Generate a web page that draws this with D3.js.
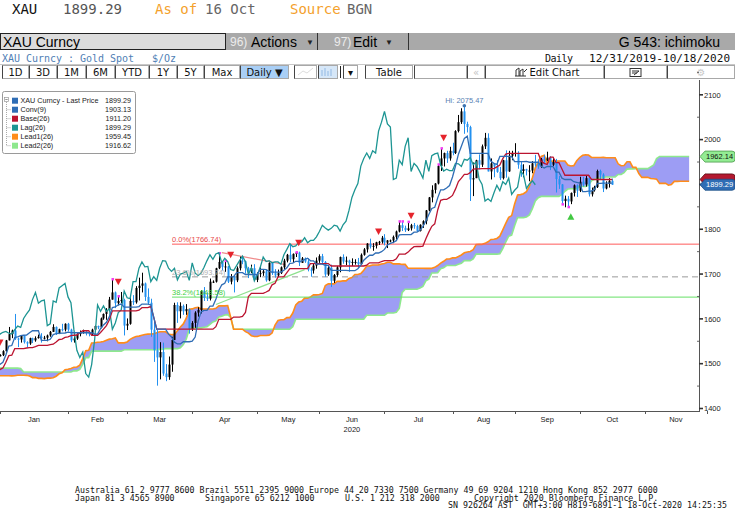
<!DOCTYPE html>
<html>
<head>
<meta charset="utf-8">
<script src="https://cdn.jsdelivr.net/npm/d3@7/dist/d3.min.js"></script>
<style>
    body { margin: 0; background: #fff; }
    svg { display: block; }
    .mono { font-family: "DejaVu Sans Mono", monospace; }
    .sans { font-family: "Liberation Sans", Arial, sans-serif; }
    .tahoma { font-family: "DejaVu Sans", sans-serif; }
</style>
</head>
<body>
<svg id="chart" width="735" height="529"></svg>
<script>
// daily bars, index 0 = 31 Dec 2019 (weekdays only)
var openPx = [
    1515,1517,1519,1528,1552,1566,1574,1556,1554,1562,
    1548,1545,1557,1552,1557,1560,1558,1558,1563,1571,
    1582,1567,1577,1576,1589,1576,1552,1556,1566,1570,
    1572,1568,1566,1576,1584,1581,1601,1611,1620,1643,
    1659,1635,1640,1642,1585,1589,1640,1637,1669,1674,
    1679,1649,1636,1576,1530,1514,1526,1478,1470,1498,
    1553,1631,1617,1629,1617,1622,1577,1591,1614,1620,
    1662,1647,1645,1683,1683,1713,1727,1716,1717,1683,
    1694,1686,1713,1730,1729,1713,1706,1713,1687,1700,
    1702,1706,1686,1725,1702,1697,1702,1715,1730,1743,
    1733,1745,1748,1725,1735,1728,1710,1708,1719,1730,
    1740,1727,1699,1714,1685,1698,1715,1738,1728,1730,
    1725,1727,1727,1722,1743,1755,1768,1761,1763,1771,
    1772,1781,1770,1775,1775,1783,1795,1809,1803,1798,
    1802,1809,1807,1796,1810,1818,1842,1871,1888,1902,
    1941,1958,1970,1958,1975,1970,2019,2039,2063,2035,
    2028,1911,1914,1954,1944,1985,2004,1929,1947,1940,
    1928,1914,1954,1929,1964,1968,1970,1944,1930,1934,
    1931,1931,1947,1946,1940,1956,1954,1960,1944,1950,
    1912,1900,1863,1868,1862,1881,1898,1886,1906,1900,
    1914,1878,1887,1894,1930,1922,1891,1901,1908
];
var highPx = [
    1523,1521,1530,1553,1582,1576,1611,1558,1563,1563,
    1550,1558,1558,1561,1565,1568,1562,1565,1573,1588,
    1583,1578,1589,1590,1591,1578,1561,1568,1574,1576,
    1574,1569,1578,1585,1585,1603,1612,1624,1649,1689,
    1661,1651,1660,1645,1601,1649,1653,1673,1692,1703,
    1681,1668,1645,1596,1575,1548,1547,1499,1516,1560,
    1636,1637,1637,1632,1633,1623,1595,1617,1626,1664,
    1671,1659,1690,1686,1714,1747,1729,1730,1718,1700,
    1698,1717,1739,1738,1730,1716,1721,1722,1704,1715,
    1711,1709,1726,1727,1711,1710,1717,1734,1745,1765,
    1746,1749,1750,1738,1737,1735,1715,1723,1737,1744,
    1745,1729,1719,1721,1700,1718,1739,1744,1739,1732,
    1735,1733,1736,1746,1758,1769,1779,1769,1772,1774,
    1785,1789,1776,1777,1786,1797,1818,1818,1808,1817,
    1812,1814,1810,1811,1820,1843,1872,1898,1903,1945,
    1981,1971,1975,1984,1993,2021,2055,2070,2075.47,2040,
    2031,1949,1955,1967,1989,2015,2014,1958,1948,1954,
    1939,1955,1976,1975,1975,1992,1974,1950,1945,1935,
    1943,1952,1966,1956,1959,1966,1973,1963,1960,1957,
    1919,1901,1875,1874,1882,1900,1900,1917,1917,1919,
    1921,1893,1897,1933,1933,1925,1907,1914,1913
];
var lowPx = [
    1514,1516,1517,1527,1552,1557,1553,1537,1547,1545,
    1536,1542,1546,1549,1556,1547,1554,1550,1560,1571,
    1564,1566,1572,1572,1572,1548,1547,1553,1561,1567,
    1563,1561,1564,1574,1577,1579,1598,1598,1619,1643,
    1624,1630,1635,1563,1575,1587,1631,1634,1641,1659,
    1640,1633,1560,1504,1451,1465,1473,1461,1464,1482,
    1553,1591,1601,1609,1609,1567,1573,1580,1605,1612,
    1640,1640,1641,1680,1681,1711,1708,1705,1680,1677,
    1659,1682,1708,1722,1701,1691,1702,1684,1682,1693,
    1696,1683,1684,1698,1692,1693,1700,1711,1726,1727,
    1726,1738,1718,1725,1725,1706,1694,1701,1712,1725,
    1723,1694,1696,1671,1680,1694,1704,1723,1720,1705,
    1718,1721,1715,1721,1741,1748,1757,1752,1757,1765,
    1768,1764,1758,1771,1769,1777,1793,1796,1794,1796,
    1797,1801,1795,1795,1803,1811,1840,1860,1880,1900,
    1930,1940,1948,1953,1965,1968,2016,2035,2013,2016,
    1863,1874,1914,1934,1939,1979,1929,1911,1916,1926,
    1910,1911,1915,1928,1954,1962,1935,1917,1916,1920,
    1907,1925,1940,1935,1937,1948,1952,1932,1941,1882,
    1890,1855,1849,1849,1856,1873,1872,1883,1895,1895,
    1873,1873,1884,1892,1911,1883,1889,1893,1899
];
var closePx = [
    1517,1519,1528,1552,1566,1574,1556,1554,1562,1548,
    1545,1557,1552,1557,1560,1558,1558,1563,1571,1582,
    1567,1577,1576,1589,1576,1552,1556,1566,1570,1572,
    1568,1566,1576,1584,1581,1601,1611,1620,1643,1659,
    1635,1640,1642,1585,1589,1640,1637,1669,1674,1679,
    1649,1636,1576,1530,1514,1526,1478,1470,1498,1553,
    1631,1617,1629,1617,1622,1577,1591,1614,1620,1662,
    1647,1645,1683,1683,1713,1727,1716,1717,1683,1694,
    1686,1713,1730,1729,1713,1706,1713,1687,1700,1702,
    1706,1686,1725,1702,1697,1702,1715,1730,1743,1733,
    1745,1748,1725,1735,1728,1710,1708,1719,1730,1740,
    1727,1699,1714,1685,1698,1715,1738,1728,1730,1725,
    1727,1727,1722,1743,1755,1768,1761,1763,1771,1772,
    1781,1770,1775,1775,1783,1795,1809,1803,1798,1802,
    1809,1807,1796,1810,1818,1842,1871,1888,1902,1941,
    1958,1970,1958,1975,1970,2019,2039,2063,2035,2028,
    1911,1914,1954,1944,1985,2004,1929,1947,1940,1928,
    1914,1954,1929,1964,1968,1970,1944,1930,1934,1931,
    1931,1947,1946,1940,1956,1954,1960,1944,1950,1912,
    1900,1863,1868,1862,1881,1898,1886,1906,1900,1914,
    1878,1887,1894,1930,1922,1891,1901,1908,1899.29
];

// Sep-Dec 2019 highs/lows, off the left edge, feed the ichimoku windows
var histHigh = [
    1530,1547,1557,1553,1530,1510,1500,1504,1517,1504,1512,1503,1504,1508,1518,1525,1535,1533,1511,1508,1490,
    1481,1500,1514,1517,1505,1508,1512,1516,1499,1498,1497,1495,1498,1497,1492,1490,1495,1506,1518,1507,1494,1498,1515,
    1517,1516,1510,1494,1494,1472,1464,1464,1468,1474,1473,1474,1476,1478,1475,1468,1465,1464,1463,1458,1467,
    1468,1479,1484,1482,1477,1466,1468,1477,1479,1480,1478,1479,1479,1480,1481,1488,1499,1501,1512,1514,1518
];
var histLow = [
    1517,1521,1537,1515,1503,1494,1484,1484,1485,1486,1491,1494,1488,1489,1498,1510,1518,1502,1496,1488,1465,
    1459,1477,1497,1499,1490,1491,1498,1488,1475,1485,1476,1478,1483,1486,1477,1482,1484,1490,1500,1487,1484,1483,1495,
    1503,1504,1481,1479,1466,1456,1447,1445,1453,1460,1463,1461,1466,1467,1461,1456,1451,1452,1452,1451,1453,
    1454,1459,1470,1470,1458,1456,1459,1463,1461,1465,1472,1472,1473,1471,1474,1476,1486,1497,1499,1506,1509
];

var monthLabels = ["Jan","Feb","Mar","Apr","May","Jun","Jul","Aug","Sep","Oct","Nov"];
var monthStart = [1, 24, 44, 66, 88, 109, 131, 154, 175, 197, 219, 240];
var yTicks = [1400, 1500, 1600, 1700, 1800, 1900, 2000, 2100];
// 1900 sits under the last-price tag, so its label is not shown
var yTickLabels = ["1400", "1500", "1600", "1700", "1800", "", "2000", "2100"];

var legendNames = ["XAU Curncy - Last Price", "Conv(9)", "Base(26)", "Lag(26)", "Lead1(26)", "Lead2(26)"];
var legendValues = ["1899.29", "1903.13", "1911.20", "1899.29", "1959.45", "1916.62"];

var fibLabels = ["0.0%(1766.74)", "23.6%(1693.74)", "38.2%(1648.58)"];
var fibLevels = [1766.74, 1693.74, 1648.58];

// base tag sits behind the last-price tag, only its rim shows
var tagLabels = ["", "1962.14", "1899.29"];
var tagLevels = [1911.20, 1962.14, 1899.29];

var sellIdx = [1, 41, 79, 102, 129, 140, 151];
var sellPx = [1547, 1683, 1743, 1770, 1795, 1830, 2004];
var buyIdx = [194];
var buyPx = [1828];
var hiDotIdx = [39, 41, 75, 77, 101, 136, 137, 139, 149, 150];
var loDotIdx = [191, 193];

var trendDown = [[76, 1748], [97.5, 1721]];
var trendUp = [[74, 1632], [104, 1710]];

var colUp = "#000000", colDown = "#2391f0", colConv = "#2f6db5", colBase = "#bb1430",
    colLag = "#1d9593", colLead1 = "#ff8c1a", colLead2 = "#8ee88e", colCloud = "#9d9df4";

var svg = d3.select("#chart");

// ---------------- header ----------------
var h1 = svg.append("g").attr("class", "mono").style("font-size", "14px");
h1.append("text").attr("x", 12).attr("y", 14).attr("fill", "#111").text("XAU");
h1.append("text").attr("x", 63).attr("y", 14).attr("fill", "#555").text(d3.format(".2f")(closePx[closePx.length - 1]));
h1.append("text").attr("x", 155).attr("y", 14).attr("fill", "#f4a12c").text("As of");
h1.append("text").attr("x", 205).attr("y", 14).attr("fill", "#666").text("16 Oct");
h1.append("text").attr("x", 290).attr("y", 14).attr("fill", "#f4a12c").text("Source");
h1.append("text").attr("x", 347).attr("y", 14).attr("fill", "#666").text("BGN");

svg.append("rect").attr("x", 0).attr("y", 33).attr("width", 735).attr("height", 17).attr("fill", "#a9a9a9");
svg.append("rect").attr("x", 0.5).attr("y", 33.5).attr("width", 225).attr("height", 16)
    .attr("fill", "#dcdcdc").attr("stroke", "#222");
var h2 = svg.append("g").attr("class", "sans");
h2.append("text").attr("x", 3).attr("y", 46.5).style("font-size", "14px").attr("fill", "#000").text("XAU Curncy");
h2.append("text").attr("x", 230).attr("y", 46).style("font-size", "12px").attr("fill", "#ececec").text("96)");
h2.append("text").attr("x", 251).attr("y", 46.5).style("font-size", "14px").attr("fill", "#000").text("Actions");
h2.append("text").attr("x", 306).attr("y", 45).style("font-size", "8px").attr("fill", "#222").text("▼");
h2.append("line").attr("x1", 317.5).attr("x2", 317.5).attr("y1", 33).attr("y2", 50).attr("stroke", "#333");
h2.append("text").attr("x", 334).attr("y", 46).style("font-size", "12px").attr("fill", "#ececec").text("97)");
h2.append("text").attr("x", 353).attr("y", 46.5).style("font-size", "14px").attr("fill", "#000").text("Edit");
h2.append("text").attr("x", 385).attr("y", 45).style("font-size", "8px").attr("fill", "#222").text("▼");
h2.append("line").attr("x1", 408.5).attr("x2", 408.5).attr("y1", 33).attr("y2", 50).attr("stroke", "#333");
h2.append("text").attr("x", 720).attr("y", 46.5).attr("text-anchor", "end").style("font-size", "14px")
    .attr("fill", "#000").text("G 543: ichimoku");

var h3 = svg.append("g").attr("class", "mono").style("font-size", "10px");
h3.append("text").attr("x", 2).attr("y", 62).attr("fill", "#4f80b5").attr("xml:space", "preserve")
    .attr("textLength", 174).text("XAU Curncy : Gold Spot   $/Oz");
h3.append("text").attr("x", 545).attr("y", 62).attr("fill", "#111").attr("textLength", 28).text("Daily");
h3.append("text").attr("x", 589).attr("y", 62).attr("fill", "#111").style("font-size", "11px")
    .attr("textLength", 141).text("12/31/2019-10/18/2020");

// toolbar
var buttons = [
    { t: "1D", a: 2, b: 29 }, { t: "3D", a: 29, b: 57 }, { t: "1M", a: 57, b: 86 }, { t: "6M", a: 86, b: 115 },
    { t: "YTD", a: 115, b: 149 }, { t: "1Y", a: 149, b: 177 }, { t: "5Y", a: 177, b: 204 }, { t: "Max", a: 204, b: 240 },
    { t: "Daily ▼", a: 240, b: 289, bg: "#a9cff6" }, { t: "", a: 294, b: 317 }, { t: "", a: 318, b: 338, bg: "#d6e7f8" },
    { t: "▾", a: 343, b: 358 }, { t: "Table", a: 365, b: 413 }, { t: "", a: 414, b: 467 },
    { t: "«", a: 467, b: 485, fg: "#c4c4c4" }, { t: "Edit Chart", a: 485, b: 604, dx: 10 },
    { t: "", a: 604, b: 667 }, { t: "⚙", a: 667, b: 735, fg: "#c8c8c8" }
];
svg.append("line").attr("x1", 0).attr("x2", 735).attr("y1", 64.5).attr("y2", 64.5).attr("stroke", "#c8c8c8");
var tb = svg.append("g").attr("class", "tahoma").style("font-size", "10px");
buttons.forEach(function (d) {
    tb.append("rect").attr("x", d.a + 0.5).attr("y", 65.5).attr("width", d.b - d.a - 1).attr("height", 13)
        .attr("fill", d.bg || "#fff").attr("stroke", "#a8a8a8");
    tb.append("line").attr("x1", d.a + 0.5).attr("x2", d.a + 0.5).attr("y1", 65.5).attr("y2", 78.5).attr("stroke", "#444");
    if (d.t) {
        tb.append("text").attr("x", (d.a + d.b) / 2 + (d.dx || 0)).attr("y", 76).attr("text-anchor", "middle")
            .attr("fill", d.fg || "#111").text(d.t);
    }
});
tb.append("line").attr("x1", 340.5).attr("x2", 340.5).attr("y1", 66).attr("y2", 78).attr("stroke", "#222");
// greyed icons
tb.append("path").attr("d", "M298,75 L303,71 L307,73 L313,68").attr("fill", "none").attr("stroke", "#ddd");
tb.append("path").attr("d", "M322,70 v6 M325,68 v8 M328,71 v5 M331,69 v7").attr("stroke", "#a9c9ea").attr("stroke-width", 1.5);
tb.append("path").attr("d", "M515,76 h11 M516,76 v-6 l3,-2 v8 M520,76 v-5 l3,-2 v7 M524,72 l3,-3")
    .attr("fill", "none").attr("stroke", "#333");
tb.append("rect").attr("x", 630).attr("y", 68.5).attr("width", 11).attr("height", 8).attr("fill", "none").attr("stroke", "#333");
tb.append("path").attr("d", "M632,71 h7 M632,73 h5 M634,75 l5,-4").attr("stroke", "#333");

// ---------------- chart ----------------
var plotLeft = 0, plotRight = 699, plotTop = 80, plotBottom = 411;
var x = d3.scaleLinear().domain([0, 237]).range([-3, 698]);
var y = d3.scaleLinear().domain([1400, 2100]).range([408.5, 94.8]);

svg.append("defs").append("clipPath").attr("id", "plotclip").append("rect")
    .attr("x", plotLeft).attr("y", plotTop).attr("width", plotRight - plotLeft).attr("height", plotBottom - plotTop);
var plot = svg.append("g").attr("clip-path", "url(#plotclip)");

// ichimoku from the bar highs/lows
var fullHigh = histHigh.concat(highPx), fullLow = histLow.concat(lowPx), lead = histHigh.length;
function midRange(k, n) {
    var s = lead + k - n + 1, e = lead + k + 1;
    return (d3.max(fullHigh.slice(s, e)) + d3.min(fullLow.slice(s, e))) / 2;
}
var conv = closePx.map(function (c, i) { return midRange(i, 9); });
var base = closePx.map(function (c, i) { return midRange(i, 26); });
var span = d3.range(0, closePx.length + 26).map(function (j) {
    var k = j - 26;
    return { i: j, a: (midRange(k, 9) + midRange(k, 26)) / 2, b: midRange(k, 52) };
});

plot.append("path").datum(span).attr("fill", colCloud)
    .attr("d", d3.area().x(function (d) { return x(d.i); }).y0(function (d) { return y(d.a); }).y1(function (d) { return y(d.b); }));
plot.append("path").datum(span).attr("fill", "none").attr("stroke", colLead2).attr("stroke-width", 1.6)
    .attr("d", d3.line().x(function (d) { return x(d.i); }).y(function (d) { return y(d.b); }));
plot.append("path").datum(span).attr("fill", "none").attr("stroke", colLead1).attr("stroke-width", 1.6)
    .attr("d", d3.line().x(function (d) { return x(d.i); }).y(function (d) { return y(d.a); }));

// fibonacci retracement levels
var fibColors = ["#ff5a5a", "#9a9a9a", "#66e066"];
var fibText = ["#e84848", "#b0b0b0", "#3fcf3f"];
fibLevels.forEach(function (v, k) {
    plot.append("line").attr("x1", 172).attr("x2", plotRight).attr("y1", y(v)).attr("y2", y(v))
        .attr("stroke", fibColors[k]).attr("stroke-width", 1)
        .attr("stroke-dasharray", k === 1 ? "6,4" : null);
});

// trend lines
var tl = d3.line().x(function (d) { return x(d[0]); }).y(function (d) { return y(d[1]); });
plot.append("path").datum(trendDown).attr("d", tl).attr("stroke", "#f08a8a").attr("stroke-width", 1.2).attr("fill", "none");
plot.append("path").datum(trendUp).attr("d", tl).attr("stroke", "#8ee08e").attr("stroke-width", 1.2).attr("fill", "none");

// candles
var bars = d3.range(closePx.length);
function barColor(i) { return closePx[i] >= openPx[i] ? colUp : colDown; }
plot.selectAll("line.wick").data(bars).enter().append("line").attr("class", "wick")
    .attr("x1", function (i) { return Math.round(x(i)) + 0.5; })
    .attr("x2", function (i) { return Math.round(x(i)) + 0.5; })
    .attr("y1", function (i) { return y(highPx[i]); })
    .attr("y2", function (i) { return y(lowPx[i]); })
    .attr("stroke", barColor).attr("stroke-width", 1);
plot.selectAll("rect.body").data(bars).enter().append("rect").attr("class", "body")
    .attr("x", function (i) { return Math.round(x(i)) - 0.5; })
    .attr("width", 2)
    .attr("y", function (i) { return y(Math.max(openPx[i], closePx[i])); })
    .attr("height", function (i) { return Math.max(1, Math.abs(y(openPx[i]) - y(closePx[i]))); })
    .attr("fill", barColor);

// magenta marks at bar ends
plot.selectAll("rect.hm").data(hiDotIdx).enter().append("rect")
    .attr("x", function (i) { return Math.round(x(i)) - 0.5; }).attr("width", 2.5)
    .attr("y", function (i) { return y(highPx[i]) - 1; }).attr("height", 2.5).attr("fill", "#f23df2");
plot.selectAll("rect.lm").data(loDotIdx).enter().append("rect")
    .attr("x", function (i) { return Math.round(x(i)) - 0.5; }).attr("width", 2.5)
    .attr("y", function (i) { return y(lowPx[i]) - 1.5; }).attr("height", 2.5).attr("fill", "#f23df2");

// lagging span, base, conversion
var lagLine = d3.line().x(function (d, i) { return x(i - 26); }).y(function (d) { return y(d); });
plot.append("path").datum(closePx).attr("fill", "none").attr("stroke", colLag).attr("stroke-width", 1.3).attr("d", lagLine);
var idxLine = d3.line().x(function (d, i) { return x(i); }).y(function (d) { return y(d); });
plot.append("path").datum(base).attr("fill", "none").attr("stroke", colBase).attr("stroke-width", 1.3).attr("d", idxLine);
plot.append("path").datum(conv).attr("fill", "none").attr("stroke", colConv).attr("stroke-width", 1.3).attr("d", idxLine);

// signal triangles
plot.selectAll("path.sell").data(sellIdx).enter().append("path")
    .attr("d", function (i, k) { var cx = x(i), cy = y(sellPx[k]); return "M" + (cx - 3.5) + "," + (cy - 3) + "H" + (cx + 3.5) + "L" + cx + "," + (cy + 3.5) + "Z"; })
    .attr("fill", "#e5242c");
plot.selectAll("path.buy").data(buyIdx).enter().append("path")
    .attr("d", function (i, k) { var cx = x(i), cy = y(buyPx[k]); return "M" + (cx - 3.5) + "," + (cy + 3) + "H" + (cx + 3.5) + "L" + cx + "," + (cy - 3.5) + "Z"; })
    .attr("fill", "#42c842");

// high of period
var hiIdx = d3.maxIndex(highPx);
plot.append("circle").attr("cx", x(hiIdx)).attr("cy", y(highPx[hiIdx])).attr("r", 1.8).attr("fill", "#3f74b0");
svg.append("text").attr("class", "sans").style("font-size", "7.5px").attr("fill", "#5a82b4")
    .attr("x", x(hiIdx)).attr("y", 102.5).attr("text-anchor", "middle").text("Hi: " + d3.format(".2f")(highPx[hiIdx]));

// fib labels
fibLabels.forEach(function (t, k) {
    svg.append("text").attr("class", "sans").style("font-size", "7.5px").attr("fill", fibText[k])
        .attr("x", 172).attr("y", y(fibLevels[k]) - 1.8).text(t);
});

// ---------------- axes ----------------
var ax = svg.append("g").attr("class", "sans").style("font-size", "7.5px");
ax.append("line").attr("x1", plotRight + 0.5).attr("x2", plotRight + 0.5).attr("y1", plotTop).attr("y2", plotBottom + 1)
    .attr("stroke", "#555");
ax.append("line").attr("x1", 0).attr("x2", plotRight + 1).attr("y1", plotBottom + 0.5).attr("y2", plotBottom + 0.5)
    .attr("stroke", "#555");
yTicks.forEach(function (v, k) {
    ax.append("line").attr("x1", plotRight).attr("x2", plotRight + 4).attr("y1", y(v)).attr("y2", y(v))
        .attr("stroke", "#333").attr("stroke-width", 1.6);
    ax.append("line").attr("x1", plotRight - 2).attr("x2", plotRight).attr("y1", y(v + 50)).attr("y2", y(v + 50))
        .attr("stroke", "#666");
    if (yTickLabels[k]) {
        ax.append("text").attr("x", plotRight + 5).attr("y", y(v) + 2.7).attr("fill", "#222").text(yTickLabels[k]);
    }
});
monthStart.forEach(function (m) {
    ax.append("line").attr("x1", Math.round(x(m)) + 0.5).attr("x2", Math.round(x(m)) + 0.5)
        .attr("y1", plotBottom).attr("y2", plotBottom + 3).attr("stroke", "#555");
});
monthLabels.forEach(function (t, k) {
    ax.append("text").attr("x", (x(monthStart[k]) + x(monthStart[k + 1])) / 2).attr("y", 421.5)
        .attr("text-anchor", "middle").attr("fill", "#222").text(t);
});
ax.append("text").attr("x", (x(monthStart[5]) + x(monthStart[6])) / 2).attr("y", 432)
    .attr("text-anchor", "middle").attr("fill", "#222").text("2020");

// right-hand value tags
var tagFill = ["#b3182f", "#93ec93", "#2f6db5"], tagInk = ["#fff", "#111", "#fff"], tagEdge = ["#5a0a12", "#4a9a4a", "#1d4f86"];
tagLevels.forEach(function (v, k) {
    var c = y(v);
    svg.append("path")
        .attr("d", "M700," + c + "L705," + (c - 5.5) + "H732Q735," + (c - 5.5) + " 735," + (c - 2.5) + "V" + (c + 2.5) +
            "Q735," + (c + 5.5) + " 732," + (c + 5.5) + "H705Z")
        .attr("fill", tagFill[k]).attr("stroke", tagEdge[k]).attr("stroke-width", 0.8);
    if (tagLabels[k]) {
        svg.append("text").attr("class", "sans").style("font-size", "7.5px").attr("fill", tagInk[k])
            .attr("x", 706).attr("y", c + 2.7).text(tagLabels[k]);
    }
});

// ---------------- legend ----------------
var legendColors = [colConv, colConv, colBase, colLag, colLead1, colLead2];
var lg = svg.append("g").attr("class", "sans").style("font-size", "7.2px");
lg.append("rect").attr("x", 2.5).attr("y", 91.5).attr("width", 133).attr("height", 62).attr("rx", 2)
    .attr("fill", "#fff").attr("stroke", "#9a9a9a");
lg.append("rect").attr("x", 4.5).attr("y", 97.5).attr("width", 4).attr("height", 4).attr("fill", "none").attr("stroke", "#999").attr("stroke-width", 0.7);
lg.append("line").attr("x1", 5.3).attr("x2", 7.7).attr("y1", 99.5).attr("y2", 99.5).attr("stroke", "#666").attr("stroke-width", 0.7);
lg.append("line").attr("x1", 6.5).attr("x2", 6.5).attr("y1", 102).attr("y2", 146).attr("stroke", "#aaa")
    .attr("stroke-dasharray", "1,1");
legendNames.forEach(function (t, k) {
    var cy = 100.7 + k * 9;
    if (k > 0) lg.append("line").attr("x1", 6.5).attr("x2", 11).attr("y1", cy).attr("y2", cy).attr("stroke", "#aaa").attr("stroke-dasharray", "1,1");
    lg.append("rect").attr("x", 12).attr("y", cy - 3).attr("width", 6).attr("height", 6).attr("fill", legendColors[k]);
    lg.append("text").attr("x", 20.5).attr("y", cy + 2.6).attr("fill", "#222").text(t);
    lg.append("text").attr("x", 131).attr("y", cy + 2.6).attr("text-anchor", "end").attr("fill", "#222").text(legendValues[k]);
});

// ---------------- footer ----------------
var footer = [
    { t: "Australia 61 2 9777 8600 Brazil 5511 2395 9000 Europe 44 20 7330 7500 Germany 49 69 9204 1210 Hong Kong 852 2977 6000", x: 75, y: 493 },
    { t: "Japan 81 3 4565 8900", x: 75, y: 500.5 },
    { t: "Singapore 65 6212 1000", x: 205, y: 500.5 },
    { t: "U.S. 1 212 318 2000", x: 345, y: 500.5 },
    { t: "Copyright 2020 Bloomberg Finance L.P.", x: 474, y: 500.5 },
    { t: "SN 926264 AST  GMT+3:00 H819-6891-1 18-Oct-2020 14:25:35", x: 448, y: 508 }
];
var ft = svg.append("g").attr("class", "mono").style("font-size", "8px").attr("fill", "#111");
footer.forEach(function (d) {
    ft.append("text").attr("x", d.x).attr("y", d.y).attr("xml:space", "preserve")
        .attr("textLength", d.t.length * 4.98).attr("lengthAdjust", "spacingAndGlyphs").text(d.t);
});
</script>
</body>
</html>
